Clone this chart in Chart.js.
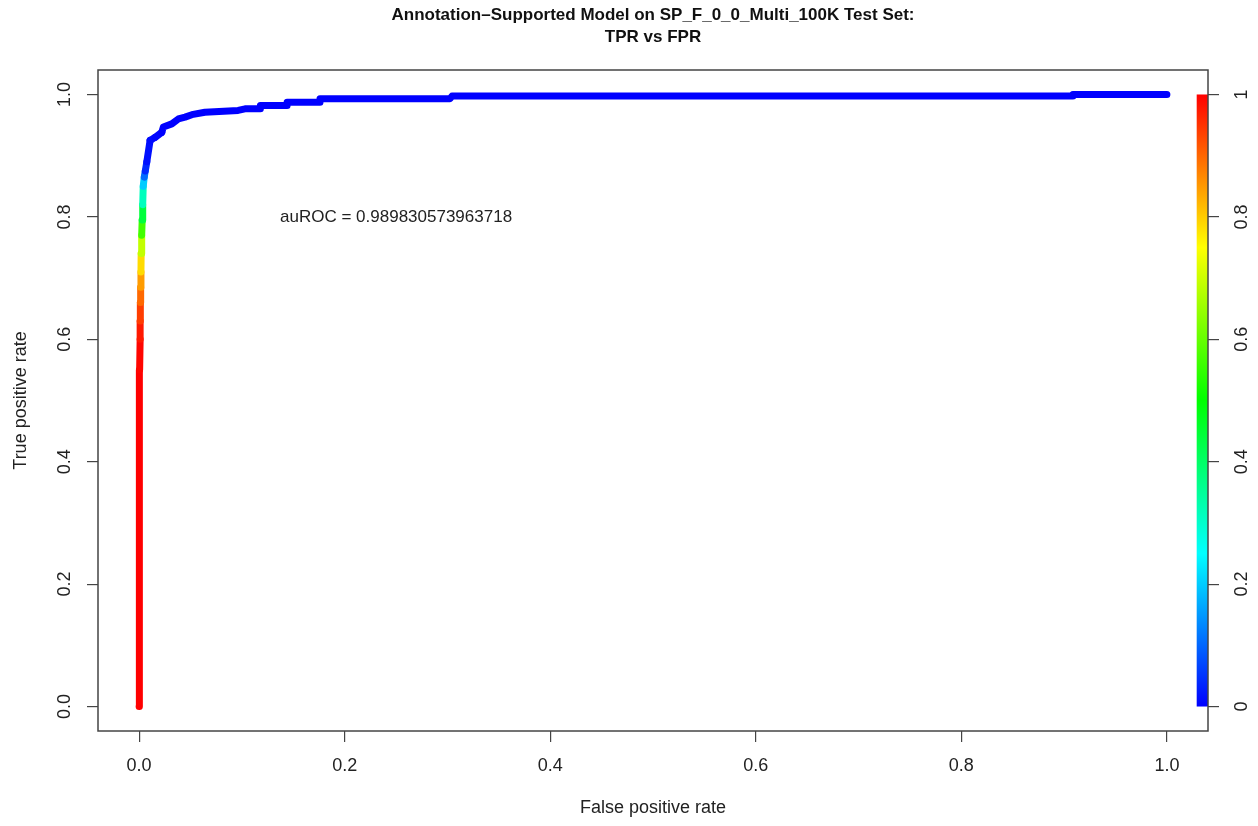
<!DOCTYPE html>
<html lang="en">
<head>
    <meta charset="UTF-8">
    <title>TPR vs FPR</title>
    <script src="https://cdn.jsdelivr.net/npm/chart.js"></script>
    <style>
        body {
            margin: 0;
            padding: 0;
            background: #ffffff;
        }
    </style>
</head>
<body>
    <canvas id="rocChart" width="1258" height="826"></canvas>

    <script>
        // ROC curve
        const fpr = [0, 0, 0.0005, 0.001, 0.001, 0.0012, 0.0015, 0.0018, 0.002, 0.0025, 0.003, 0.0035, 0.004, 0.005, 0.006,
            0.0075, 0.0107, 0.0156, 0.022, 0.0236, 0.0318, 0.0382, 0.0447, 0.0513, 0.064, 0.0963, 0.103, 0.118, 0.118,
            0.144, 0.144, 0.176, 0.176, 0.3025, 0.3045, 0.9086, 0.9086, 1.0];
        const tpr = [0, 0.30, 0.55, 0.60, 0.63, 0.66, 0.685, 0.71, 0.74, 0.77, 0.795, 0.82, 0.85, 0.865, 0.875,
            0.89, 0.925, 0.930, 0.938, 0.947, 0.952, 0.960, 0.963, 0.967, 0.971, 0.974, 0.9765, 0.9765, 0.982,
            0.982, 0.9875, 0.9875, 0.993, 0.993, 0.9975, 0.9975, 1.0, 1.0];
        const cutoff = [1, 1, 1, 0.99, 0.96, 0.92, 0.875, 0.82, 0.75, 0.63, 0.5, 0.38, 0.25, 0.15, 0.06,
            0.02, 0.01, 0.01, 0, 0, 0, 0, 0, 0, 0, 0, 0, 0, 0,
            0, 0, 0, 0, 0, 0, 0, 0, 0];

        const xTicks = [0, 0.2, 0.4, 0.6, 0.8, 1.0];
        const yTicks = [0, 0.2, 0.4, 0.6, 0.8, 1.0];
        const barTicks = [0, 0.2, 0.4, 0.6, 0.8, 1.0];
        const barTickLabels = ['0', '0.2', '0.4', '0.6', '0.8', '1'];

        const titleLines = ['Annotation\u2013Supported Model on SP_F_0_0_Multi_100K Test Set:', 'TPR vs FPR'];
        const aucText = 'auROC = 0.989830573963718';

        const FONT = "'Liberation Sans', Arial, sans-serif";
        const TEXT = '#222';

        // rainbow palette: red for cutoff 1, blue for cutoff 0
        function cutoffColor(c) {
            const h = (1 - c) * 240;
            return `hsl(${h}, 100%, 50%)`;
        }

        const points = fpr.map((x, i) => ({ x: x, y: tpr[i] }));

        const framePlugin = {
            id: 'frame',
            beforeDatasetsDraw(chart) {
                const { ctx, chartArea, scales } = chart;
                // colour key
                const left = scales.x.getPixelForValue(1.029);
                const right = chartArea.right;
                const top = scales.y2.getPixelForValue(1);
                const bottom = scales.y2.getPixelForValue(0);
                const grad = ctx.createLinearGradient(0, bottom, 0, top);
                for (let i = 0; i <= 24; i++) {
                    grad.addColorStop(i / 24, cutoffColor(i / 24));
                }
                ctx.save();
                ctx.fillStyle = grad;
                ctx.fillRect(left, top, right - left, bottom - top);
                ctx.restore();
            },
            afterDraw(chart) {
                const { ctx, chartArea, scales } = chart;
                ctx.save();
                // plot box
                ctx.strokeStyle = '#444';
                ctx.lineWidth = 1.5;
                ctx.strokeRect(chartArea.left, chartArea.top, chartArea.right - chartArea.left, chartArea.bottom - chartArea.top);

                // title
                const cx = (chartArea.left + chartArea.right) / 2;
                ctx.fillStyle = '#111';
                ctx.textAlign = 'center';
                ctx.textBaseline = 'middle';
                ctx.font = `bold 17px ${FONT}`;
                ctx.fillText(titleLines[0], cx, 15);
                ctx.fillText(titleLines[1], cx, 37);

                // auROC label
                ctx.fillStyle = TEXT;
                ctx.font = `17px ${FONT}`;
                ctx.fillText(aucText, scales.x.getPixelForValue(0.25), scales.y.getPixelForValue(0.80));
                ctx.restore();
            }
        };

        const tickGrid = {
            drawOnChartArea: false,
            drawTicks: true,
            tickLength: 11,
            color: '#444',
            lineWidth: 1.2
        };

        new Chart(document.getElementById('rocChart'), {
            type: 'scatter',
            data: {
                datasets: [{
                    data: points,
                    showLine: true,
                    pointRadius: 0,
                    borderWidth: 7,
                    borderCapStyle: 'round',
                    borderJoinStyle: 'round',
                    borderColor: '#0000ff',
                    segment: {
                        borderColor: ctx => cutoffColor((cutoff[ctx.p0DataIndex] + cutoff[ctx.p1DataIndex]) / 2)
                    }
                }]
            },
            options: {
                responsive: false,
                animation: false,
                devicePixelRatio: 1,
                layout: { padding: { top: 70, left: 0, right: 0, bottom: 0 } },
                plugins: {
                    legend: { display: false },
                    tooltip: { enabled: false },
                    title: { display: false }
                },
                scales: {
                    x: {
                        type: 'linear',
                        position: 'bottom',
                        min: -0.04,
                        max: 1.04,
                        afterBuildTicks: s => { s.ticks = xTicks.map(v => ({ value: v })); },
                        afterFit: s => { s.height = 95; },
                        grid: tickGrid,
                        border: { display: false },
                        ticks: {
                            padding: 13,
                            color: TEXT,
                            font: { family: FONT, size: 18 },
                            callback: v => v.toFixed(1)
                        },
                        title: {
                            display: true,
                            text: 'False positive rate',
                            color: TEXT,
                            font: { family: FONT, size: 18 },
                            padding: { top: 0, bottom: 7 }
                        }
                    },
                    y: {
                        type: 'linear',
                        position: 'left',
                        min: -0.04,
                        max: 1.04,
                        afterBuildTicks: s => { s.ticks = yTicks.map(v => ({ value: v })); },
                        afterFit: s => { s.width = 98; },
                        grid: tickGrid,
                        border: { display: false },
                        ticks: {
                            padding: 9,
                            minRotation: 90,
                            maxRotation: 90,
                            crossAlign: 'center',
                            color: TEXT,
                            font: { family: FONT, size: 18 },
                            callback: v => v.toFixed(1)
                        },
                        title: {
                            display: true,
                            text: 'True positive rate',
                            color: TEXT,
                            font: { family: FONT, size: 18 },
                            padding: { top: 10, bottom: 0 }
                        }
                    },
                    y2: {
                        type: 'linear',
                        position: 'right',
                        min: -0.04,
                        max: 1.04,
                        afterBuildTicks: s => { s.ticks = barTicks.map(v => ({ value: v })); },
                        afterFit: s => { s.width = 50; },
                        grid: tickGrid,
                        border: { display: false },
                        ticks: {
                            padding: 11,
                            minRotation: 90,
                            maxRotation: 90,
                            crossAlign: 'center',
                            color: TEXT,
                            font: { family: FONT, size: 18 },
                            callback: (v, i) => barTickLabels[i]
                        }
                    }
                }
            },
            plugins: [framePlugin]
        });
    </script>
</body>
</html>
